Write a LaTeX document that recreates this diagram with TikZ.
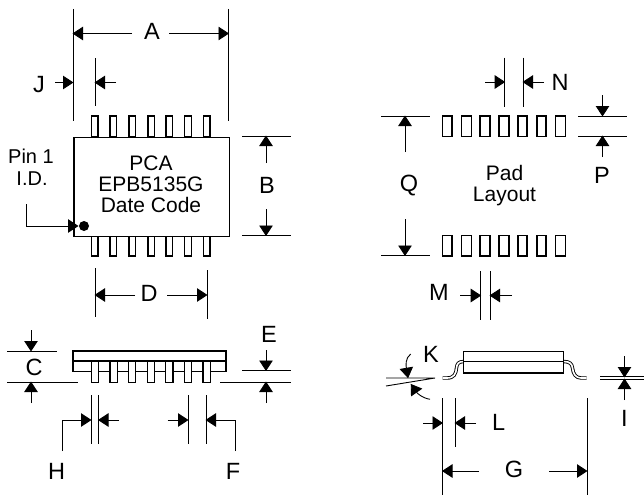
\documentclass[tikz,border=0pt]{standalone}
\usepackage{fontspec}
\setmainfont{Liberation Sans}
\usetikzlibrary{arrows.meta}
\tikzset{
  lbl/.style={anchor=base,inner sep=0pt,font=\fontsize{23.5}{26}\selectfont},
  txt/.style={anchor=base,inner sep=0pt,font=\fontsize{21}{24}\selectfont},
  pintxt/.style={anchor=base,inner sep=0pt,font=\fontsize{20}{24}\selectfont},
  dim/.style={line width=0.9pt,-{Triangle[length=10.5pt,width=13.5pt]},shorten >=-0.5pt},
  ext/.style={line width=0.9pt},
  obj/.style={line width=1.2pt,fill=white},
  leadline/.style={line width=0.9pt,double=white,double distance=1.6pt,line join=round}
}
\begin{document}
\begin{tikzpicture}[x=1pt,y=-1pt]
\useasboundingbox (0,0) rectangle (644,495);
% top view
\foreach \c in {94.7,113.3,132.3,151.3,169.3,188,206.7}{
  \draw[obj] (\c-3.3,116) rectangle (\c+3.3,136.5);
  \draw[obj] (\c-3.3,235.5) rectangle (\c+3.3,256);
}
\node[draw,obj,minimum width=155.2pt,minimum height=99pt,inner sep=0pt,anchor=north west] (body) at (73.3,136.5) {};
\node[txt] (pca) at (151,170) {PCA};
\node[txt] (epb) at (151,191.7) {EPB5135G};
\node[txt] (date) at (151,212.7) {Date Code};
\fill (84,226) circle (5pt);
\node[pintxt] (pin) at (31,163.3) {Pin 1};
\node[pintxt] (id) at (32,185.3) {I.D.};
\draw[dim] (26.5,204) -- (26.5,226) -- (78,226);
% A
\draw[ext] (73,9) -- (73,121) (228.5,9) -- (228.5,121);
\node[lbl] (A) at (152,40) {A};
\draw[dim] (132,33.5) -- (73,33.5);
\draw[dim] (169,33.5) -- (228.5,33.5);
% J
\draw[ext] (95,58) -- (95,106);
\node[lbl] (J) at (39,92) {J};
\draw[dim] (55,82.5) -- (73,82.5);
\draw[dim] (116,82.5) -- (95,82.5);
% B
\draw[ext] (242,136) -- (291,136) (242,235.5) -- (291,235.5);
\node[lbl] (B) at (267,193.5) {B};
\draw[dim] (266,163) -- (266,136);
\draw[dim] (266,209) -- (266,235.5);
% D
\draw[ext] (95,268) -- (95,317) (207,270) -- (207,319);
\node[lbl] (D) at (149,301.7) {D};
\draw[dim] (135,295) -- (95,295);
\draw[dim] (167,295) -- (207,295);
% side view
\draw[obj] (73,351) rectangle (226,361);
\draw[obj] (73,361) rectangle (226,371.7);
\foreach \c in {95,113.7,132,151,169.3,188,206.7}{
  \draw[obj] (\c-3.7,361) rectangle (\c+3.7,382.3);
}
% C
\draw[ext] (7,351) -- (57,351) (7,382) -- (78,382);
\node[lbl] (C) at (34,375) {C};
\draw[dim] (31,330) -- (31,351);
\draw[dim] (31,403) -- (31,382);
% E
\draw[ext] (242,370.5) -- (291,370.5) (220,382) -- (291,382);
\node[lbl] (E) at (269,342.7) {E};
\draw[dim] (266,350) -- (266,370.5);
\draw[dim] (266,403) -- (266,382);
% H
\draw[ext] (91,395) -- (91,444) (98.5,395) -- (98.5,444);
\node[lbl] (H) at (56.5,479.3) {H};
\draw[dim] (62,451) -- (62,420) -- (91,420);
\draw[dim] (118.5,420) -- (98.5,420);
% F
\draw[ext] (188,395) -- (188,444) (206,395) -- (206,444);
\node[lbl] (F) at (233,479.3) {F};
\draw[dim] (167.5,420) -- (188,420);
\draw[dim] (235,451) -- (235,420) -- (206,420);
% pad layout
\foreach \a/\b in {442.7/452,461.7/471.3,480/490,499/509,518/527,537/546,555.5/565.5}{
  \draw[obj] (\a,116) rectangle (\b,136.7);
  \draw[obj] (\a,235.7) rectangle (\b,256);
}
\node[txt] (pad) at (504.5,180.7) {Pad};
\node[txt] (layout) at (504.5,201.7) {Layout};
% N
\draw[ext] (504.7,57.7) -- (504.7,106.7) (523,57.7) -- (523,106.7);
\node[lbl] (N) at (560,90) {N};
\draw[dim] (485,82) -- (504.7,82);
\draw[dim] (544,82) -- (523,82);
% Q
\draw[ext] (381,116) -- (430,116) (381,255.5) -- (430,255.5);
\node[lbl] (Q) at (409,191) {Q};
\draw[dim] (405,152) -- (405,116);
\draw[dim] (405,219) -- (405,255.5);
% P
\draw[ext] (578,116) -- (627,116) (578,136) -- (627,136);
\node[lbl] (P) at (602,183.3) {P};
\draw[dim] (602.5,95) -- (602.5,116);
\draw[dim] (602.5,157) -- (602.5,136);
% M
\draw[ext] (480.7,271) -- (480.7,319.7) (490,271) -- (490,319.7);
\node[lbl] (M) at (439,300) {M};
\draw[dim] (460,295.5) -- (480.7,295.5);
\draw[dim] (512,295.5) -- (490,295.5);
% gull-wing side view
\draw[leadline] (464,361.5) .. controls (458,361.5) and (457,364) .. (456.5,368) .. controls (456,374) and (454,378) .. (447,378) -- (442.7,378);
\draw[leadline] (563.7,361.5) .. controls (570,361.5) and (572,364) .. (572.5,368) .. controls (573,374) and (576,378) .. (581,378) -- (586.7,378);
\draw[obj] (463.7,351.3) rectangle (563.7,361.5);
\draw[obj] (463.7,361.5) rectangle (563.7,373);
% K
\draw[ext] (386,378) -- (435,378) (386,386) -- (435,378);
\node[lbl] (K) at (431,362.7) {K};
\draw[dim] (410.7,354) .. controls (405,358) and (406,366) .. (408,377.7);
\draw[dim] (430,399.3) .. controls (422,398) and (417,393) .. (411,384.3);
% L
\draw[ext] (442.5,398) -- (442.5,447) (455,398) -- (455,447);
\node[lbl] (L) at (498.7,430) {L};
\draw[dim] (423,423) -- (442.5,423);
\draw[dim] (476,423) -- (455,423);
% G
\draw[ext] (442.5,447) -- (442.5,495) (587,398) -- (587,495);
\node[lbl] (G) at (514,477.3) {G};
\draw[dim] (479,471) -- (442.5,471);
\draw[dim] (549,471) -- (587,471);
% I
\draw[ext] (600,376) -- (644,376) (600,379.3) -- (644,379.3);
\node[lbl] (I) at (624.5,426.7) {I};
\draw[dim] (624.5,356) -- (624.5,377);
\draw[dim] (624.5,400) -- (624.5,379);
\end{tikzpicture}
\end{document}
